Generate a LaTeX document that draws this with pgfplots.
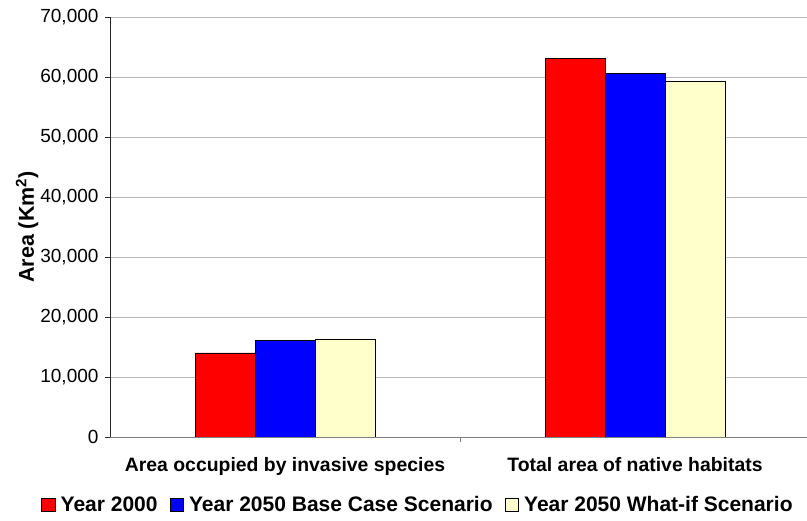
\documentclass[border=0pt]{standalone}
\usepackage{pgfplots}
\pgfplotsset{compat=1.18}
\usepackage{fontspec}
\setmainfont{Liberation Sans}
\definecolor{cred}{RGB}{255,0,0}
\definecolor{cblue}{RGB}{0,0,255}
\definecolor{cyel}{RGB}{255,255,204}
\begin{document}
\begin{tikzpicture}
\begin{axis}[
  scale only axis, width=697pt, height=420pt,
  xmin=-0.5, xmax=1.4914, ymin=0, ymax=70000,
  ybar=0pt, bar width=60pt,
  axis x line*=bottom, axis y line*=left,
  axis line style={-},
  x axis line style={draw=gray},
  y axis line style={draw=black!85},
  tick align=outside, major tick length=5pt,
  ytick={0,10000,20000,30000,40000,50000,60000,70000},
  scaled y ticks=false,
  ymajorgrids, grid style={gray!55, line width=0.6pt},
  ytick style={draw=black!85},
  /pgf/number format/fixed,
  /pgf/number format/1000 sep={,},
  /pgf/number format/assume math mode=true,
  yticklabel style={font=\fontsize{19}{21}\selectfont, xshift=-3pt},
  xtick={0,1},
  xticklabels={Area occupied by invasive species, Total area of native habitats},
  xticklabel style={font=\bfseries\fontsize{19.4}{21}\selectfont, yshift=-12pt},
  xtick style={draw=none},
  extra x ticks={0.5},
  extra x tick labels={},
  extra x tick style={xtick style={draw=gray}, major tick length=5pt},
  ylabel={Area (Km\textsuperscript{2})},
  every axis y label/.style={at={(axis description cs:-0.119,0.5)}, rotate=90, anchor=center, font=\bfseries\fontsize{21.5}{23}\selectfont},
  legend columns=3,
  legend style={draw=none, fill=none, inner sep=0pt, font=\bfseries\fontsize{21}{23}\selectfont,
    at={(axis description cs:-0.099,-0.162)}, anchor=west,
    /tikz/every odd column/.append style={column sep=3.5pt},
    /tikz/every even column/.append style={column sep=10pt}},
  legend image code/.code={\draw[#1, draw=black, line width=0.5pt] (0pt,-6.5pt) rectangle (13.5pt,7pt);},
]
\coordinate (O) at (rel axis cs:0,0);
\addplot[fill=cred, draw=black, line width=0.7pt] coordinates {(0,14000) (1,63050)};
\addplot[fill=cblue, draw=black, line width=0.7pt] coordinates {(0,16100) (1,60600)};
\addplot[fill=cyel, draw=black, line width=0.7pt] coordinates {(0,16200) (1,59200)};
\legend{Year 2000, Year 2050 Base Case Scenario, Year 2050 What-if Scenario}
\end{axis}
\pgfresetboundingbox
\path ([shift={(-110pt,-84pt)}]O) rectangle ([shift={(697pt,437pt)}]O);
\end{tikzpicture}
\end{document}
